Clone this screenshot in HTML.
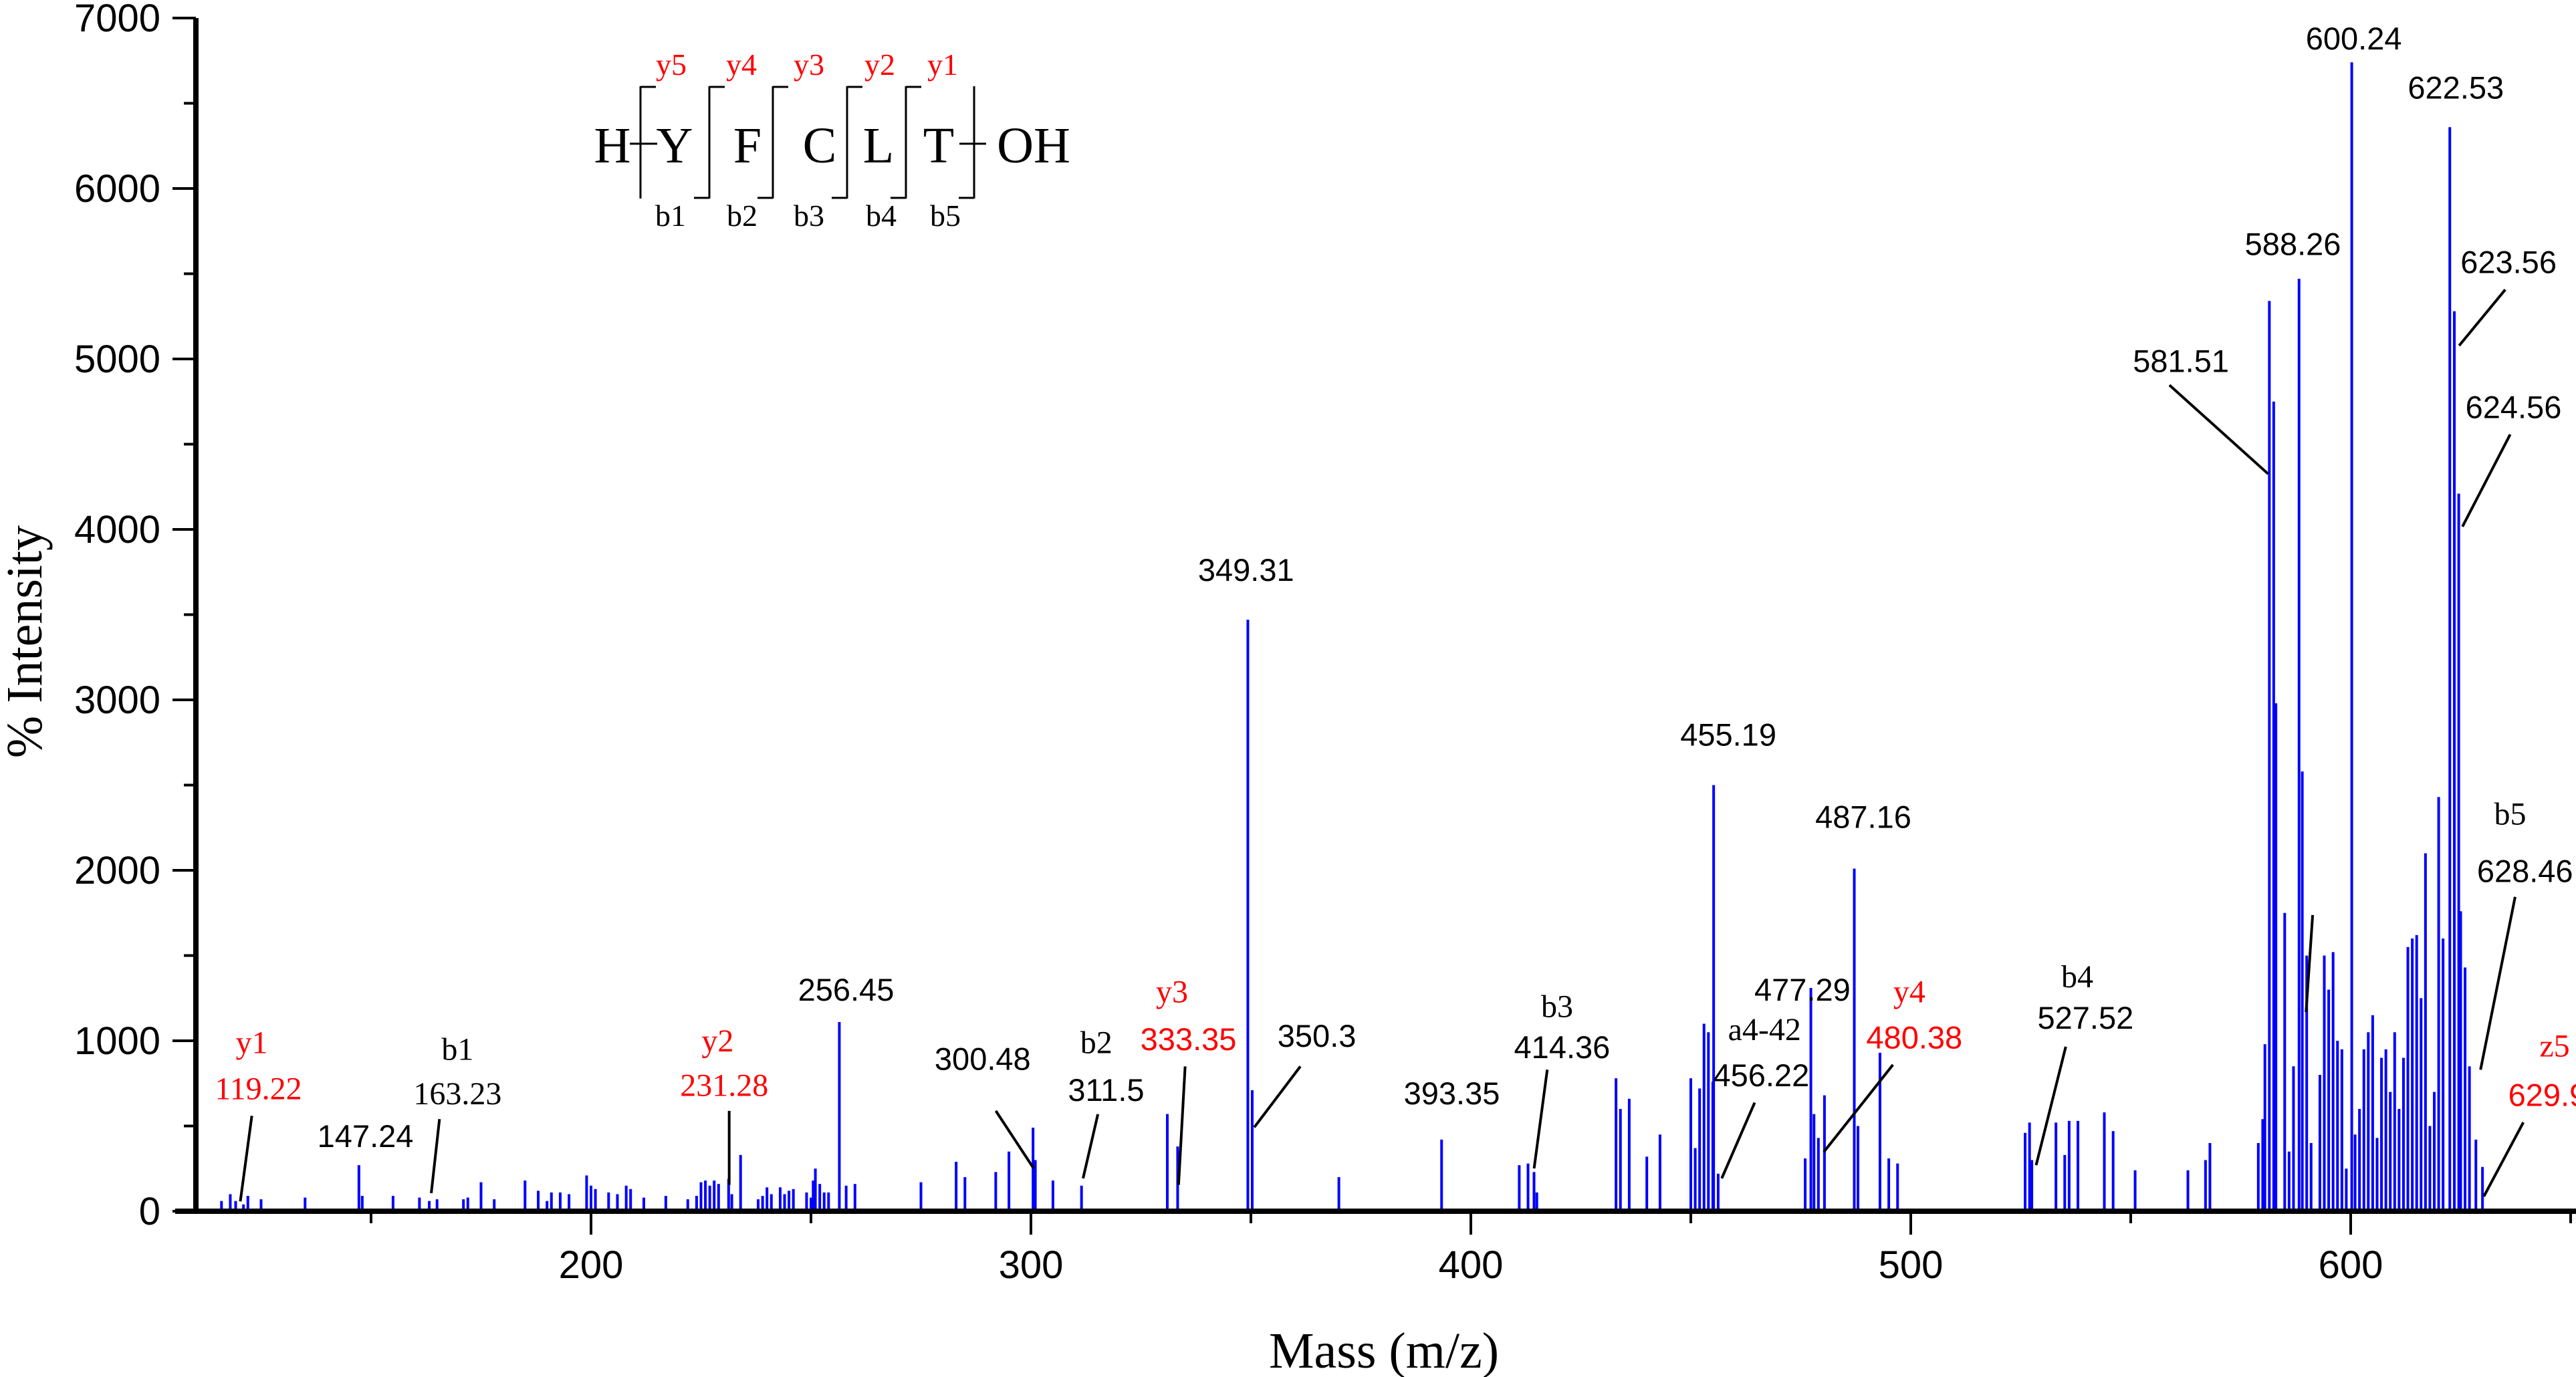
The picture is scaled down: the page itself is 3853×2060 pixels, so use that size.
<!DOCTYPE html>
<html><head><meta charset="utf-8"><style>
html,body{margin:0;padding:0;background:#fff;}
svg{display:block;}
.sans{font-family:"Liberation Sans",Arial,sans-serif;}
.serif{font-family:"Liberation Serif","Times New Roman",serif;}
</style></head><body>
<svg id="chart" width="3853" height="2060" viewBox="0 0 3853 2060" xmlns="http://www.w3.org/2000/svg">
<rect width="3853" height="2060" fill="#fff"/>
<g id="peaks"></g>
<g id="axes"></g>
<g id="annot"></g>
<g id="peptide"></g>
<text class="serif" x="2070" y="2046" font-size="76" text-anchor="middle">Mass (m/z)</text>
<text class="serif" transform="translate(62,960) rotate(-90)" font-size="76" text-anchor="middle">% Intensity</text>
</svg>
<script>
const masses = [116,118,119.22,121,122,125,135,147.24,148,155,161,163.23,165,171,172,175,178,185,188,190,191,193,195,199,200,201,204,206,208,209,212,217,222,224,225,226,227,228,229,231.28,232,234,238,239,240,241,243,244,245,246,249,250,250.5,251,252,253,254,256.45,258,260,275,283,285,292,295,300.48,301,305,311.5,331,333.35,349.31,350.3,370,393.35,411,413,414.36,415,433,434,436,440,443,450,451,452,453,454,455,455.19,456.22,476,477.29,478,479,480.38,487.16,488,493,495,497,526,527,527.52,533,535,536,538,544,546,551,563,567,568,579,580,580.5,581.51,582.5,583,585,586,587,588.26,589,590,591,593,594,595,596,597,598,599,600.24,601,602,603,604,605,606,607,608,609,610,611,612,613,614,615,616,617,618,619,620,621,622.53,623.56,624.56,625,626,627,628.46,629.96];
const intensities = [60,100,60,40,90,70,80,270,90,90,80,60,70,70,80,170,70,180,120,60,110,110,100,210,150,130,110,100,150,130,80,90,70,90,170,180,150,180,160,190,100,330,70,90,140,100,140,100,120,130,110,80,180,250,160,110,110,1110,150,160,170,290,200,230,350,490,300,180,150,570,380,3470,710,200,420,270,280,230,110,780,600,660,320,450,780,370,720,1100,1050,760,2500,220,310,1310,570,430,680,2010,500,930,310,280,460,520,300,520,330,530,530,580,470,240,240,300,400,400,540,980,5340,4750,2980,1750,350,850,5470,2580,1500,400,800,1500,1300,1520,1000,950,250,6740,450,600,950,1050,1150,430,900,950,700,1050,600,900,1550,1600,1620,1250,2100,500,700,2430,1600,6360,5280,4210,1760,1430,850,420,260];
const yTicks = [0,1000,2000,3000,4000,5000,6000,7000];
const xTicks = [200,300,400,500,600];

const NS = "http://www.w3.org/2000/svg";
function X(m){ return 884 + (m-200)*6.58; }
function Y(v){ return 1812 - v*0.255; }
function mk(tag, attrs, parent, txt){
  const e = document.createElementNS(NS, tag);
  for (const k in attrs) e.setAttribute(k, attrs[k]);
  if (txt !== undefined) e.textContent = txt;
  parent.appendChild(e); return e;
}
const gp = document.getElementById('peaks');
masses.forEach((m,i)=>{
  const l = mk('line',{x1:X(m),x2:X(m),y1:Y(0),y2:Y(intensities[i]),stroke:'#0000ff','stroke-width':4},gp);
  
  
});
const ga = document.getElementById('axes');
mk('line',{x1:293,x2:293,y1:27,y2:1816,stroke:'#000','stroke-width':8},ga);
mk('line',{x1:262,x2:3853,y1:1812,y2:1812,stroke:'#000','stroke-width':8},ga);
for (let v=0; v<=7000; v+=500){
  const major = v%1000===0;
  mk('line',{x1:major?258:275,x2:293,y1:Y(v),y2:Y(v),stroke:'#000','stroke-width':4},ga);
}
yTicks.forEach(v=>{
  const t = mk('text',{x:240,y:Y(v)+20,'font-size':58,'text-anchor':'end',class:'sans'},ga,String(v));
  
  
});
for (let m=150; m<=650; m+=50){
  const major = m%100===0;
  mk('line',{x1:X(m),x2:X(m),y1:1812,y2:major?1847:1830,stroke:'#000','stroke-width':4},ga);
}
xTicks.forEach(m=>{
  const t = mk('text',{x:X(m),y:1912,'font-size':58,'text-anchor':'middle',class:'sans'},ga,String(m));
  
  
});

const K = 2.462;
const labels = [
 ['y1',153,640,'red','serif'],['119.22',157,668,'red','serif'],
 ['147.24',222,697,'#000','sans'],
 ['b1',278,644,'#000','serif'],['163.23',278,671,'#000','serif'],
 ['y2',436,639,'red','serif'],['231.28',440,666,'red','serif'],
 ['256.45',514,608,'#000','sans'],
 ['300.48',597,650,'#000','sans'],
 ['b2',666,640,'#000','serif'],['311.5',672,669,'#000','sans'],
 ['y3',712,609,'red','serif'],['333.35',722,638,'red','sans'],
 ['349.31',757,353,'#000','sans'],
 ['350.3',800,636,'#000','sans'],
 ['393.35',882,671,'#000','sans'],
 ['b3',946,618,'#000','serif'],['414.36',949,643,'#000','sans'],
 ['455.19',1050,453,'#000','sans'],
 ['a4-42',1072,632,'#000','serif'],['456.22',1070,660,'#000','sans'],
 ['477.29',1095,608,'#000','sans'],
 ['y4',1160,609,'red','serif'],['480.38',1163,637,'red','sans'],
 ['487.16',1132,503,'#000','sans'],
 ['b4',1262,600,'#000','serif'],['527.52',1267,625,'#000','sans'],
 ['581.51',1325,226,'#000','sans'],
 ['588.26',1393,155,'#000','sans'],
 ['600.24',1430,30,'#000','sans'],
 ['622.53',1492,60,'#000','sans'],
 ['623.56',1524,166,'#000','sans'],
 ['624.56',1527,254,'#000','sans'],
 ['b5',1525,501,'#000','serif'],['628.46',1534,536,'#000','sans'],
 ['z5',1552,642,'red','serif'],['629.96',1553,672,'red','sans']
];
const leaders = [[153,678,146,730],[267,680,262,725],[443,675,443,720],[605,675,628,710],[667,677,658,716],[720,648,716,720],[790,648,762,685],[940,650,932,710],[1066,670,1046,716],[1150,647,1108,700],[1255,636,1237,708],[1318,234,1378,288],[1522,176,1494,210],[1525,264,1496,320],[1528,545,1507,650],[1533,682,1509,727],[1405,556,1401,615]];
const gn = document.getElementById('annot');
labels.forEach(a=>{
  const fs = a[4]==='serif' ? 48 : 47;
  const t = mk('text',{x:a[1]*K,y:a[2]*K,'font-size':fs,'text-anchor':'middle',fill:a[3],class:a[4]},gn,a[0]);
  
  
});
leaders.forEach(l=>{
  const e = mk('line',{x1:l[0]*K,y1:l[1]*K,x2:l[2]*K,y2:l[3]*K,stroke:'#000','stroke-width':4},gn);
  
  
});

const pp = document.getElementById('peptide');
const res = [['H',916],['Y',1009],['F',1118],['C',1226],['L',1314],['T',1404],['OH',1546]];
res.forEach(r=>{
  const t = mk('text',{x:r[1],y:243,'font-size':76,'text-anchor':'middle',class:'serif'},pp,r[0]);
  
  
});
const yl = [['y5',1004],['y4',1109],['y3',1210],['y2',1316],['y1',1410]];
yl.forEach(r=>{
  const t = mk('text',{x:r[1],y:112,'font-size':46,'text-anchor':'middle',fill:'red',class:'serif'},pp,r[0]);
  
  
});
const bl = [['b1',1003],['b2',1110],['b3',1210],['b4',1318],['b5',1414]];
bl.forEach(r=>{
  const t = mk('text',{x:r[1],y:338,'font-size':46,'text-anchor':'middle',class:'serif'},pp,r[0]);
  
  
});
const br = [958,1061,1156,1267,1355,1457];
br.forEach((x,i)=>{
  mk('line',{x1:x,x2:x,y1:129,y2:297,stroke:'#000','stroke-width':3},pp);
  if (i<br.length-1) mk('line',{x1:x,x2:x+23,y1:130,y2:130,stroke:'#000','stroke-width':3},pp);
  if (i>0) mk('line',{x1:x-23,x2:x,y1:296,y2:296,stroke:'#000','stroke-width':3},pp);
});
mk('line',{x1:942,x2:983,y1:215,y2:215,stroke:'#000','stroke-width':3},pp);
mk('line',{x1:1435,x2:1475,y1:215,y2:215,stroke:'#000','stroke-width':3},pp);
</script>
</body></html>
